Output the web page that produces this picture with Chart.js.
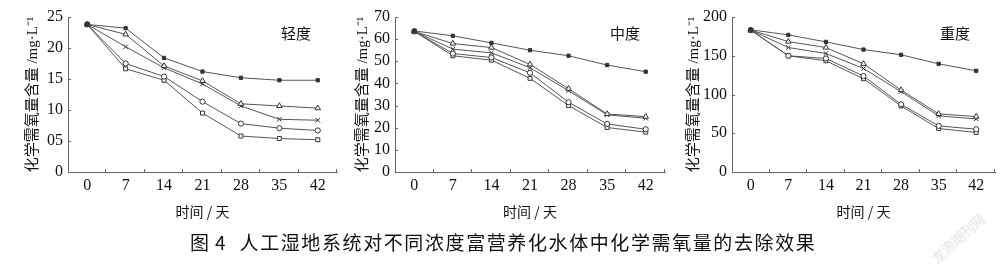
<!DOCTYPE html>
<html><head><meta charset="utf-8">
<script src="https://cdn.jsdelivr.net/npm/chart.js@4.4.1/dist/chart.umd.min.js"></script>
<style>
html,body{margin:0;padding:0;background:#fff;}
body{width:1000px;height:272px;position:relative;overflow:hidden;font-family:"Liberation Serif","Noto Sans CJK SC",serif;}
canvas{position:absolute;top:0;}
.lbl{position:absolute;font-family:"Noto Sans CJK SC";font-size:15px;color:#111;line-height:1;white-space:nowrap;}
#cap{position:absolute;top:232px;left:190px;font-family:"Noto Sans CJK SC";font-size:19px;color:#111;white-space:nowrap;line-height:1;}
#cap .n{margin-left:6px;}
#cap .t{letter-spacing:1.6px;margin-left:14px;}
#wm{position:absolute;left:925px;top:228px;transform:rotate(-42deg);font-family:"Noto Sans CJK SC";font-size:13px;color:#e2e2e2;white-space:nowrap;}
</style></head>
<body>
<canvas id="c1" width="319" height="230" style="left:23px"></canvas>
<canvas id="c2" width="317" height="230" style="left:353px"></canvas>
<canvas id="c3" width="316" height="230" style="left:684px"></canvas>
<div class="lbl" style="left:281px;top:25px">轻度</div>
<div class="lbl" style="left:610px;top:25px">中度</div>
<div class="lbl" style="left:940px;top:25px">重度</div>
<div id="cap"><span>图</span><span class="n">4</span><span class="t">人工湿地系统对不同浓度富营养化水体中化学需氧量的去除效果</span></div>
<div id="wm">龙源期刊网</div>
<script>
const days = ['0','7','14','21','28','35','42'];

// 轻度
const mildA = [23.8, 23.2, 18.4, 16.2, 15.2, 14.8, 14.8];
const mildB = [23.8, 22.2, 17.1, 14.7, 11.0, 10.65, 10.3];
const mildC = [23.8, 20.2, 16.8, 14.2, 10.65, 8.5, 8.35];
const mildD = [23.8, 17.5, 15.4, 11.35, 7.8, 7.07, 6.7];
const mildE = [23.8, 16.65, 14.8, 9.5, 5.8, 5.4, 5.2];
const mildTicks = ['0','05','10','15','20','25'];

// 中度
const modA = [63.7, 61.5, 58.3, 55.0, 52.5, 48.3, 45.3];
const modB = [63.5, 58.0, 56.2, 48.6, 37.6, 26.2, 25.0];
const modC = [63.5, 55.5, 53.8, 47.1, 36.7, 25.8, 24.3];
const modD = [63.5, 53.5, 51.7, 44.8, 31.5, 21.7, 19.3];
const modE = [63.5, 52.5, 50.5, 42.3, 30.0, 20.1, 18.0];
const modTicks = ['0','10','20','30','40','50','60','70'];

// 重度
const sevA = [183.5, 176.9, 167.9, 158.0, 151.2, 139.6, 130.6];
const sevB = [183.0, 168.3, 160.6, 139.6, 105.8, 75.0, 71.5];
const sevC = [183.0, 160.6, 152.9, 133.6, 103.6, 72.4, 68.5];
const sevD = [183.0, 149.9, 146.5, 123.8, 87.4, 59.5, 55.2];
const sevE = [183.0, 149.9, 143.5, 120.3, 85.2, 56.1, 51.0];
const sevTicks = ['0','50','100','150','200'];

const yTitle = '化学需氧量含量 /mg·L⁻¹';
const xTitle = '时间 / 天';

const styles = [
  {pointStyle:'rect', pointRadius:2.3, pointBackgroundColor:'#333'},
  {pointStyle:'triangle', pointRadius:3.2, pointBackgroundColor:'#fff'},
  {pointStyle:'crossRot', pointRadius:3.2, pointBackgroundColor:'#fff'},
  {pointStyle:'circle', pointRadius:2.6, pointBackgroundColor:'#fff'},
  {pointStyle:'rect', pointRadius:2.8, pointBackgroundColor:'#fff'}
];

const inwardTicks = {
  id:'inwardTicks',
  afterDraw(chart){
    const {ctx, chartArea:a, scales:{x,y}} = chart;
    ctx.save();
    ctx.strokeStyle = '#666';
    ctx.lineWidth = 1;
    ctx.beginPath();
    y.ticks.forEach(t=>{
      const py = Math.round(y.getPixelForValue(t.value)) + 0.5;
      ctx.moveTo(a.left, py); ctx.lineTo(a.left + 3, py);
    });
    for (let i = 0; i < days.length; i++){
      const px = Math.round(x.getPixelForValue(i + 0.5)) - 0.5;
      ctx.moveTo(px, a.bottom); ctx.lineTo(px, a.bottom - 3);
    }
    ctx.stroke();
    ctx.restore();
  }
};

function makeChart(id, series, max, step, tickLabels, yWidth){
  new Chart(document.getElementById(id), {
    type:'line',
    data:{
      labels: days,
      datasets: series.map((d,i)=>Object.assign({
        label:'S'+(i+1), data:d, borderColor:'#555', borderWidth:1,
        pointBorderColor:'#333', pointBorderWidth:1, tension:0, fill:false
      }, styles[i]))
    },
    options:{
      responsive:false, animation:false,
      layout:{padding:{left:0, top:17, right:2, bottom:0}},
      plugins:{legend:{display:false}, tooltip:{enabled:false}},
      scales:{
        x:{
          type:'category', offset:true,
          grid:{display:false, drawTicks:false},
          border:{color:'#666', width:1},
          ticks:{color:'#111', padding:4, font:{family:'Liberation Serif', size:16}, maxRotation:0, autoSkip:false},
          title:{display:true, text:xTitle, color:'#111', padding:{top:0,bottom:10}, font:{family:'Noto Sans CJK SC', size:14}},
          afterFit(s){ s.height = 58; }
        },
        y:{
          min:0, max:max,
          grid:{display:false, drawTicks:false},
          border:{color:'#666', width:1},
          ticks:{stepSize:step, autoSkip:false, color:'#111', padding:5, font:{family:'Liberation Serif', size:16},
            callback:(v,i)=>tickLabels[i]},
          title:{display:true, text:yTitle, color:'#111', padding:{top:1,bottom:0}, font:{family:'Liberation Serif, Noto Sans CJK SC', size:15}},
          afterFit(s){ s.width = yWidth; }
        }
      }
    },
    plugins:[inwardTicks]
  });
}

makeChart('c1', [mildA, mildB, mildC, mildD, mildE], 25, 5, mildTicks, 45);
makeChart('c2', [modA, modB, modC, modD, modE], 70, 10, modTicks, 42);
makeChart('c3', [sevA, sevB, sevC, sevD, sevE], 200, 50, sevTicks, 48);
</script>
</body></html>
